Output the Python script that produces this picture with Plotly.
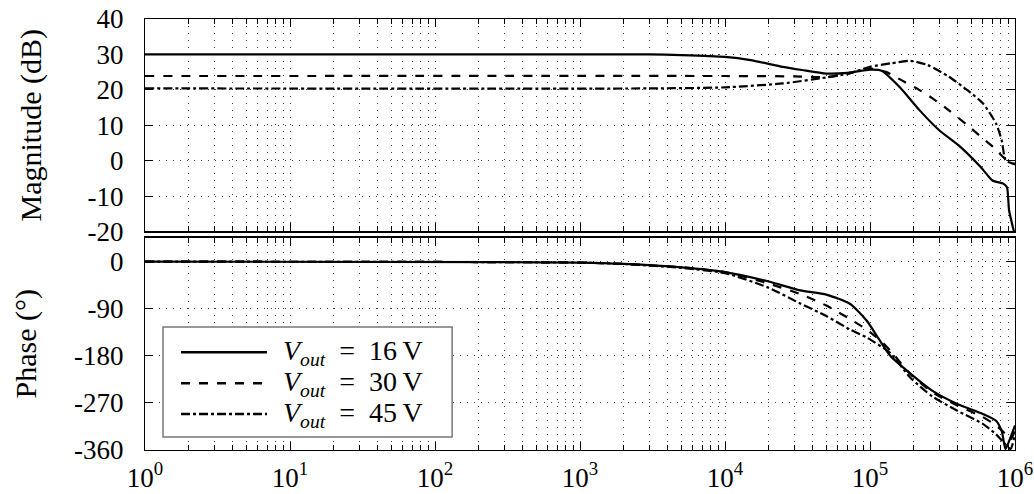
import plotly.graph_objects as go
from plotly.subplots import make_subplots

# ---------------- data ----------------
f_mag16 = [1, 1e3, 3e3, 5e3, 1e4, 1.5e4, 2.5e4, 3.4e4, 5e4, 7e4, 1e5, 1.2e5, 1.6e5, 2.2e5, 3e5, 4.2e5, 5.8e5, 7e5, 8.3e5, 8.8e5, 9.1e5, 9.7e5, 1e6]
mag16 = [30, 30, 30, 29.8, 29.3, 28.4, 26.5, 25.6, 24.6, 24.8, 25.7, 25.4, 20.8, 14.2, 8.6, 3.9, -1.8, -5.6, -6.5, -7.5, -14, -19, -21]

f_mag30 = [1, 1e4, 3e4, 5e4, 7e4, 1e5, 1.3e5, 1.7e5, 2.1e5, 2.7e5, 3.5e5, 4.7e5, 6e5, 7.1e5, 8.3e5, 9e5, 1e6]
mag30 = [23.9, 23.9, 23.8, 23.6, 24.6, 26.0, 25.0, 22.4, 20.4, 17.6, 14.2, 10.0, 6.3, 3.8, 1.0, 0.0, -1.0]

f_mag45 = [1, 3e3, 1e4, 2.5e4, 5e4, 7e4, 1e5, 1.4e5, 1.9e5, 2.5e5, 3.5e5, 4.7e5, 6e5, 7.4e5, 8.1e5, 8.6e5, 9.2e5, 1e6]
mag45 = [20.4, 20.4, 20.7, 21.8, 23.5, 24.5, 26.5, 27.5, 28.2, 27.0, 23.7, 19.9, 16.2, 10.5, 5.7, 0.1, -0.5, -1.0]

f_ph16 = [1, 300, 1e3, 2e3, 5e3, 1e4, 2e4, 3.3e4, 5e4, 7.3e4, 9.5e4, 1.17e5, 1.38e5, 1.9e5, 2.7e5, 4e5, 6e5, 7.4e5, 8.1e5, 8.6e5, 9.2e5, 1e6]
ph16 = [0, -1, -2, -4.5, -11, -20, -38, -55, -63, -81, -113, -151, -180, -214, -247, -272, -291, -304, -324, -358, -340, -313]

f_ph30 = [1, 300, 1e3, 2e3, 5e3, 1e4, 2e4, 3.3e4, 5e4, 7.3e4, 9.5e4, 1.17e5, 1.38e5, 1.9e5, 2.7e5, 4e5, 6e5, 7.4e5, 8.5e5, 9.3e5, 1e6]
ph30 = [0, -1, -2, -4.5, -11, -20, -42, -62, -84, -110, -130, -150, -170, -215, -250, -275, -297, -313, -328, -340, -322]

f_ph45 = [1, 300, 1e3, 2e3, 5e3, 1e4, 2e4, 3.3e4, 5e4, 7.3e4, 9.5e4, 1.38e5, 1.9e5, 2.7e5, 4e5, 6e5, 7.4e5, 8.5e5, 9.3e5, 1e6]
ph45 = [0, -1, -2, -4.5, -12, -22, -50, -80, -104, -130, -145, -175, -222, -258, -285, -310, -330, -348, -358, -330]

labels = ["<i>V</i><sub><i>out</i></sub>\u2002=\u200216\u2009V",
          "<i>V</i><sub><i>out</i></sub>\u2002=\u200230\u2009V",
          "<i>V</i><sub><i>out</i></sub>\u2002=\u200245\u2009V"]

x_tickvals = [1, 10, 100, 1e3, 1e4, 1e5, 1e6]
x_ticktext = ["10<sup>%d</sup>" % i for i in range(7)]
x_minor = [k * 10 ** n for n in range(6) for k in range(2, 10)]

mag_ticks = [40, 30, 20, 10, 0, -10, -20]
mag_text = ["40", "30", "20", "10", "0", "-10", "-20"]
ph_ticks = [0, -90, -180, -270, -360]
ph_text = ["0", "-90", "-180", "-270", "-360"]

# ---------------- figure ----------------
FONT = "Liberation Serif"
fig = make_subplots(rows=2, cols=1, shared_xaxes=True, vertical_spacing=0.014)

dashes = ["solid", "dash", "dashdot"]
mags = [(f_mag16, mag16), (f_mag30, mag30), (f_mag45, mag45)]
phs = [(f_ph16, ph16), (f_ph30, ph30), (f_ph45, ph45)]
for i in range(3):
    fig.add_trace(go.Scatter(x=mags[i][0], y=mags[i][1], mode="lines", name=labels[i],
                             line=dict(color="black", width=2.2, dash=dashes[i], shape="spline", smoothing=0.6),
                             showlegend=False), row=1, col=1)
    fig.add_trace(go.Scatter(x=phs[i][0], y=phs[i][1], mode="lines", name=labels[i],
                             line=dict(color="black", width=2.2, dash=dashes[i], shape="spline", smoothing=0.6),
                             showlegend=False), row=2, col=1)

GRIDDASH = "1px,6px"
GRIDCOL = "rgba(0,0,0,0.75)"
grid_common = dict(showgrid=True, gridcolor=GRIDCOL, griddash=GRIDDASH, gridwidth=1,
                   showline=True, linecolor="black", linewidth=1.2, mirror="allticks",
                   ticks="inside", tickcolor="black", ticklen=8, zeroline=False, automargin=False)

xaxis_common = dict(type="log", range=[0, 6], tickvals=x_tickvals, ticktext=x_ticktext,
                    minor=dict(tickvals=x_minor, ticks="inside", ticklen=5, tickcolor="black",
                               showgrid=True, gridcolor=GRIDCOL, griddash=GRIDDASH, gridwidth=1),
                    **grid_common)

fig.update_xaxes(showticklabels=False, row=1, col=1, **xaxis_common)
fig.update_xaxes(showticklabels=True, row=2, col=1, tickfont=dict(family=FONT, size=27, color="black"),
                 ticklabelstandoff=3, **xaxis_common)

fig.update_yaxes(range=[-20, 40], tickvals=mag_ticks, ticktext=mag_text,
                 tickfont=dict(family=FONT, size=27, color="black"), ticklabelstandoff=15,
                 title=dict(text="Magnitude (dB)", font=dict(family=FONT, size=30, color="black"), standoff=36),
                 row=1, col=1, **grid_common)
fig.update_yaxes(range=[-360, 46], tickvals=ph_ticks, ticktext=ph_text,
                 tickfont=dict(family=FONT, size=27, color="black"), ticklabelstandoff=15,
                 title=dict(text="Phase (°)", font=dict(family=FONT, size=30, color="black"), standoff=28),
                 row=2, col=1, **grid_common)

# ---- legend drawn inside the phase panel (paper coordinates) ----
shapes = [dict(type="rect", xref="paper", yref="paper", x0=0.0207, x1=0.353, y0=0.0302, y1=0.2854,
               fillcolor="white", line=dict(color="#777777", width=1.5), layer="above")]
row_y = [0.227, 0.155, 0.0835]
annotations = []
for i in range(3):
    shapes.append(dict(type="line", xref="paper", yref="paper", x0=0.0414, x1=0.1402,
                       y0=row_y[i], y1=row_y[i], layer="above",
                       line=dict(color="black", width=2.5, dash=dashes[i])))
    annotations.append(dict(xref="paper", yref="paper", x=0.156, y=row_y[i], xanchor="left", yanchor="middle",
                            text=labels[i], showarrow=False,
                            font=dict(family=FONT, size=28, color="black")))

fig.update_layout(
    width=1034, height=494,
    margin=dict(l=145, r=19, t=19, b=44),
    paper_bgcolor="white", plot_bgcolor="white",
    font=dict(family=FONT, color="black"),
    showlegend=False,
    shapes=shapes, annotations=annotations,
)

fig.write_html("out.html", config={"displayModeBar": False, "staticPlot": True},
               post_script="document.body.style.margin='0';document.body.style.overflow='hidden';")
